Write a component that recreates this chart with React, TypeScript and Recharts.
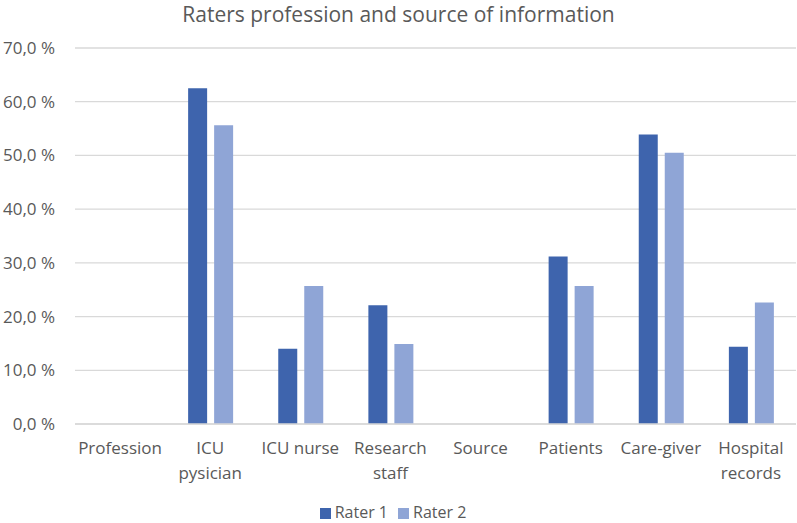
import { BarChart, Bar, XAxis, YAxis, CartesianGrid, Legend } from 'recharts'

const categories = ['Profession', 'ICU\npysician', 'ICU nurse', 'Research\nstaff', 'Source', 'Patients', 'Care-giver', 'Hospital\nrecords']
const rater1 = [null, 62.5, 14.0, 22.1, null, 31.2, 53.9, 14.4]
const rater2 = [null, 55.6, 25.7, 14.9, null, 25.7, 50.5, 22.6]
const yTicks = [0, 10, 20, 30, 40, 50, 60, 70]

const FONT = '"Open Sans", Lato, sans-serif'
const TEXT = '#595959'

const data = categories.map((name, i) => ({ name, r1: rater1[i], r2: rater2[i] }))

const fmtPct = (v: number) => `${v.toFixed(1).replace('.', ',')} %`

// etiquetas do eixo X em duas linhas quando tem \n
function CategoryTick({ x, y, payload }: any) {
  const lines = String(payload.value).split('\n')
  return (
    <text x={x} y={y} textAnchor="middle" fill={TEXT} fontSize={17} fontFamily={FONT}>
      {lines.map((l, i) => (
        <tspan key={i} x={x} dy={i === 0 ? 22 : 25}>{l}</tspan>
      ))}
    </text>
  )
}

export default function App() {
  return (
    <div style={{ position: 'absolute', left: 0, top: 0, width: 797, height: 523, background: '#fff', fontFamily: FONT }}>
      <div style={{ position: 'absolute', top: 0, left: 0, width: 797, textAlign: 'center', fontSize: 21, color: TEXT }}>
        Raters profession and source of information
      </div>
      <BarChart
        width={797}
        height={523}
        data={data}
        margin={{ top: 48, right: 1, left: 0, bottom: 0 }}
        barGap={7}
        barCategoryGap="21%"
      >
        <CartesianGrid vertical={false} stroke="#d9d9d9" strokeWidth={1.3} />
        <XAxis
          dataKey="name"
          interval={0}
          axisLine={{ stroke: '#d9d9d9', strokeWidth: 1.3 }}
          tickLine={false}
          height={77}
          tick={<CategoryTick />}
        />
        <YAxis
          domain={[0, 70]}
          ticks={yTicks}
          tickFormatter={fmtPct}
          width={75}
          axisLine={false}
          tickLine={false}
          tickSize={0}
          tickMargin={20}
          tick={{ fill: TEXT, fontSize: 17, fontFamily: FONT }}
        />
        <Legend
          verticalAlign="bottom"
          iconType="square"
          iconSize={11}
          wrapperStyle={{ fontSize: 16, fontFamily: FONT }}
          formatter={(value) => <span style={{ color: TEXT }}>{value}</span>}
        />
        <Bar dataKey="r1" name="Rater 1" fill="#3e64ad" barSize={19} isAnimationActive={false} />
        <Bar dataKey="r2" name="Rater 2" fill="#8fa5d6" barSize={19} isAnimationActive={false} />
      </BarChart>
    </div>
  )
}
